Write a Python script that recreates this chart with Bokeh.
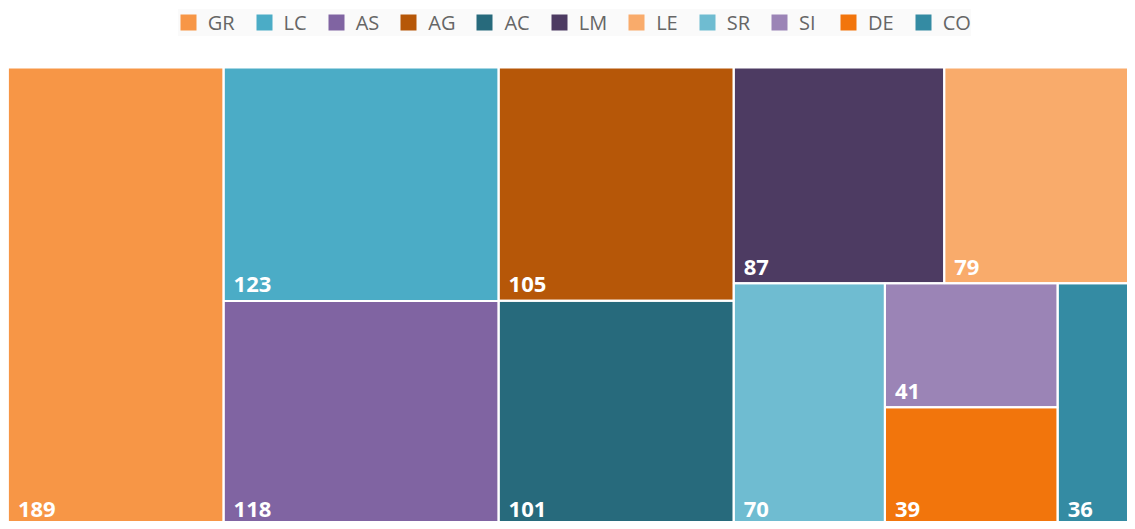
from bokeh.plotting import figure
from bokeh.models import ColumnDataSource, Range1d, Legend, LegendItem
from bokeh.embed import file_html
from bokeh.resources import INLINE
from bokeh.core.properties import value

# ---- data ----
categories = ["GR", "LC", "AS", "AG", "AC", "LM", "LE", "SR", "SI", "DE", "CO"]
values = [189, 123, 118, 105, 101, 87, 79, 70, 41, 39, 36]
colors = ["#F79646", "#4BACC6", "#8064A2", "#B65708", "#276A7C", "#4D3B62",
          "#F9AB6B", "#6FBCD1", "#9B84B6", "#F2750C", "#348BA3"]

# ---- layout constants ----
PW, PH = 1127, 521
TM_X, TM_Y, TM_W, TM_H = 7.4, 67.0, 1127.5, 457.5
TARGET = 1.2


def squarify(vals, x, y, w, h, target):
    total = float(sum(vals))
    areas = [v * w * h / total for v in vals]
    out = [None] * len(vals)
    i, n = 0, len(areas)

    def worst(row, side):
        thick = sum(row) / side
        r = 0.0
        for a in row:
            ratio = (a / thick) / thick
            r = max(r, ratio / target, target / ratio)
        return r

    while i < n:
        vertical = w >= h
        side = h if vertical else w
        j = i + 1
        best = worst(areas[i:j], side)
        while j < n:
            cand = worst(areas[i:j + 1], side)
            if cand > best:
                break
            best = cand
            j += 1
        row = areas[i:j]
        thick = sum(row) / side
        pos = y if vertical else x
        for k, a in enumerate(row):
            along = a / thick
            if vertical:
                out[i + k] = (x, pos, x + thick, pos + along)
            else:
                out[i + k] = (pos, y, pos + along, y + thick)
            pos += along
        if vertical:
            x += thick
            w -= thick
        else:
            y += thick
            h -= thick
        i = j
    return out


rects = squarify(values, TM_X, TM_Y, TM_W, TM_H, TARGET)

src = ColumnDataSource(dict(
    cat=categories,
    label=[str(v) for v in values],
    color=colors,
    left=[r[0] for r in rects],
    top=[r[1] for r in rects],
    right=[r[2] for r in rects],
    bottom=[r[3] for r in rects],
))

p = figure(width=PW, height=PH, x_range=Range1d(0, PW), y_range=Range1d(PH, 0),
           output_backend="svg", toolbar_location=None, min_border=0)
p.xaxis.visible = False
p.yaxis.visible = False
p.grid.visible = False
p.outline_line_color = None
p.background_fill_color = "white"
p.border_fill_color = "white"

fill_r = p.quad(left="left", right="right", top="top", bottom="bottom",
                fill_color="color", line_color=None, source=src)
p.quad(left="left", right="right", top="top", bottom="bottom",
       fill_color=None, line_color="white", line_width=2, source=src)
p.text(x="left", y="bottom", text="label", x_offset=10, y_offset=-16,
       text_color="white", text_font=value("Open Sans"), text_font_style="bold",
       text_font_size="22px", text_baseline="alphabetic", text_align="left",
       source=src)

items = [LegendItem(label=c, renderers=[fill_r], index=i) for i, c in enumerate(categories)]
legend = Legend(items=items, orientation="horizontal", location=(177.7, PH - 35.6),
                label_text_font="Open Sans", label_text_font_size="20px",
                label_text_color="#666666", glyph_width=20, glyph_height=20,
                label_standoff=10, spacing=19, padding=11, margin=0,
                border_line_color=None, background_fill_color="#fafafa",
                background_fill_alpha=1.0)
p.add_layout(legend)

open("out.html", "w").write(file_html(p, INLINE))
